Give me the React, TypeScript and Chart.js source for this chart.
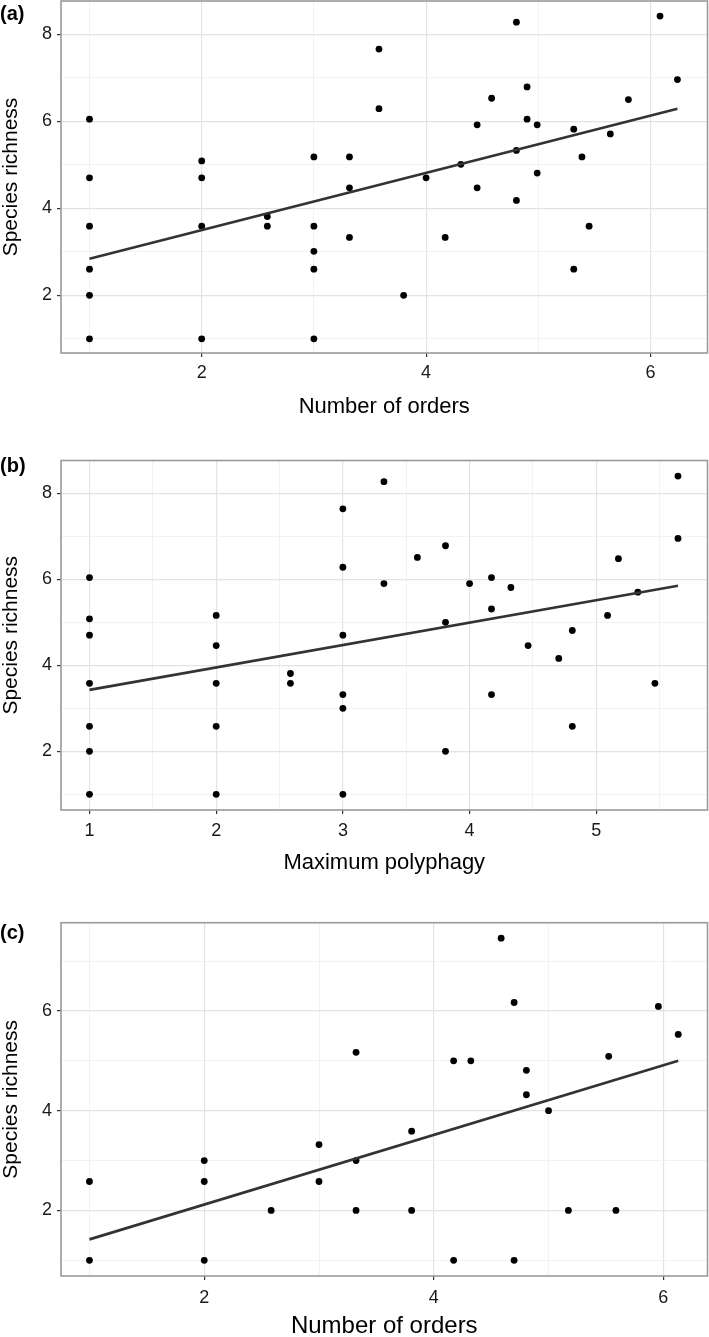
import React, { useEffect, useRef } from 'react';
import { Chart, registerables } from 'chart.js';

Chart.register(...registerables);

// ---------- Panel (a): Number of orders vs species richness ----------
const ordersA = [
  1, 1, 1, 1, 1, 1,
  2, 2, 2, 2,
  2.585, 2.585,
  3, 3, 3, 3, 3,
  3.317, 3.317, 3.317,
  3.58, 3.58,
  3.8, 4.0, 4.17, 4.31,
  4.455, 4.455, 4.584,
  4.805, 4.805, 4.805,
  4.9, 4.9, 4.99, 4.99,
  5.316, 5.316, 5.389, 5.453, 5.642, 5.803, 6.085, 6.24,
];
const richnessA = [
  6.05, 4.7, 3.59, 2.6, 2.0, 1.0,
  5.09, 4.7, 3.59, 1.0,
  3.81, 3.59,
  5.18, 3.59, 3.01, 2.6, 1.0,
  5.18, 4.47, 3.33,
  7.66, 6.29,
  2.0, 4.7, 3.33, 5.01,
  5.92, 4.47, 6.53,
  8.28, 5.33, 4.18,
  6.79, 6.05, 5.92, 4.81,
  5.82, 2.6, 5.18, 3.59, 5.71, 6.5, 8.42, 6.96,
];
const fitAx = [1, 6.24];
const fitAy = [2.84, 6.29];

// ---------- Panel (b): Maximum polyphagy vs species richness ----------
const polyphagyB = [
  1, 1, 1, 1, 1, 1, 1,
  2, 2, 2, 2, 2,
  2.586, 2.586,
  3, 3, 3, 3, 3, 3,
  3.324, 3.324, 3.588,
  3.81, 3.81, 3.81,
  4.0,
  4.173, 4.173, 4.173,
  4.326, 4.462, 4.704, 4.811, 4.811,
  5.089, 5.175, 5.328, 5.463, 5.645, 5.645,
];
const richnessB = [
  6.04, 5.08, 4.7, 3.58, 2.58, 2.0, 1.0,
  5.16, 4.46, 3.58, 2.58, 1.0,
  3.81, 3.58,
  7.64, 6.28, 4.7, 3.32, 3.0, 1.0,
  8.27, 5.9, 6.51,
  6.78, 5.0, 2.0,
  5.9,
  6.04, 5.31, 3.32,
  5.81, 4.46, 4.16, 4.81, 2.58,
  5.16, 6.48, 5.7, 3.58, 8.4, 6.95,
];
const fitBx = [1, 5.645];
const fitBy = [3.43, 5.85];

// ---------- Panel (c): Number of orders vs species richness ----------
const ordersC = [
  1, 1,
  2, 2, 2,
  2.583,
  3, 3,
  3.323, 3.323, 3.323,
  3.807, 3.807,
  4.173, 4.173, 4.323,
  4.587, 4.7, 4.7,
  4.807, 4.807, 5.0,
  5.173, 5.524, 5.587, 5.957, 6.13,
];
const richnessC = [
  2.58, 1.0,
  3.0, 2.58, 1.0,
  2.0,
  3.32, 2.58,
  5.17, 3.0, 2.0,
  3.59, 2.0,
  5.0, 1.0, 5.0,
  7.46, 6.17, 1.0,
  4.81, 4.32, 4.0,
  2.0, 5.09, 2.0, 6.09, 5.53,
];
const fitCx = [1, 6.13];
const fitCy = [1.42, 5.0];

// ---------- Tick values ----------
const xTicksOrders = [1, 2, 3, 4, 5, 6];
const xMajorOrders = [2, 4, 6];
const xTicksPoly = [1, 1.5, 2, 2.5, 3, 3.5, 4, 4.5, 5, 5.5];
const xMajorPoly = [1, 2, 3, 4, 5];
const yTicksAB = [1, 2, 3, 4, 5, 6, 7, 8];
const yMajorAB = [2, 4, 6, 8];
const yTicksC = [1, 2, 3, 4, 5, 6, 7];
const yMajorC = [2, 4, 6];

const FONT = '"Liberation Sans", Arial, Helvetica, sans-serif';

const isIn = (arr: number[], v: number) => arr.some((a) => Math.abs(a - v) < 1e-6);

const framePlugin = {
  id: 'frame',
  afterDatasetsDraw(chart: any) {
    const { ctx, chartArea } = chart;
    ctx.save();
    ctx.strokeStyle = '#9a9a9a';
    ctx.lineWidth = 1.6;
    ctx.strokeRect(chartArea.left, chartArea.top, chartArea.right - chartArea.left, chartArea.bottom - chartArea.top);
    ctx.restore();
  },
};

type PanelProps = {
  top: number;
  height: number;
  plotTop: number;
  plotBottom: number;
  xs: number[];
  ys: number[];
  fitX: number[];
  fitY: number[];
  xTicks: number[];
  xMajor: number[];
  yTicks: number[];
  yMajor: number[];
  xMin: number;
  xMax: number;
  yMin: number;
  yMax: number;
  xTitle: string;
  xTitleSize: number;
  xTitlePad: number;
  xTickPad: number;
};

function Panel(p: PanelProps) {
  const ref = useRef<HTMLCanvasElement | null>(null);
  useEffect(() => {
    if (!ref.current) return;
    const points = p.xs.map((x, i) => ({ x, y: p.ys[i] }));
    const fit = p.fitX.map((x, i) => ({ x, y: p.fitY[i] }));
    const plotLeft = 61;
    const plotRight = 707.5;
    const xAxisH = p.top + p.height - p.plotBottom;
    const gridColor = (major: number[]) => (c: any) =>
      c.tick && isIn(major, c.tick.value) ? '#e3e3e3' : '#efefef';
    const gridWidth = (major: number[]) => (c: any) =>
      c.tick && isIn(major, c.tick.value) ? 1.2 : 0.8;
    const tickColor = (major: number[]) => (c: any) =>
      c.tick && isIn(major, c.tick.value) ? '#333333' : 'rgba(0,0,0,0)';

    const chart = new Chart(ref.current, {
      type: 'scatter',
      data: {
        datasets: [
          {
            type: 'line',
            data: fit,
            borderColor: '#333333',
            borderWidth: 2.7,
            pointRadius: 0,
            fill: false,
            order: 0,
          } as any,
          {
            type: 'scatter',
            data: points,
            backgroundColor: '#000000',
            borderWidth: 0,
            pointRadius: 3.4,
            order: 1,
          },
        ],
      },
      options: {
        animation: false,
        responsive: false,
        devicePixelRatio: 1,
        layout: {
          autoPadding: false,
          padding: { top: p.plotTop - p.top, right: 709 - plotRight, left: 0, bottom: 0 },
        },
        plugins: { legend: { display: false }, tooltip: { enabled: false }, title: { display: false } },
        scales: {
          x: {
            type: 'linear',
            min: p.xMin,
            max: p.xMax,
            afterBuildTicks: (s: any) => {
              s.ticks = p.xTicks.map((v) => ({ value: v }));
            },
            afterFit: (s: any) => {
              s.height = xAxisH;
              s.paddingLeft = 0;
              s.paddingRight = 0;
            },
            ticks: {
              autoSkip: false,
              maxRotation: 0,
              padding: p.xTickPad,
              color: '#1a1a1a',
              font: { family: FONT, size: 18 },
              callback: (v: any) => (isIn(p.xMajor, Number(v)) ? String(v) : ''),
            },
            grid: {
              color: gridColor(p.xMajor),
              lineWidth: gridWidth(p.xMajor),
              tickColor: tickColor(p.xMajor),
              tickLength: 4,
              tickWidth: 1.2,
            },
            border: { display: false },
            title: {
              display: true,
              text: p.xTitle,
              color: '#000000',
              font: { family: FONT, size: p.xTitleSize },
              padding: { top: 0, bottom: p.xTitlePad },
            },
          },
          y: {
            type: 'linear',
            min: p.yMin,
            max: p.yMax,
            afterBuildTicks: (s: any) => {
              s.ticks = p.yTicks.map((v) => ({ value: v }));
            },
            afterFit: (s: any) => {
              s.width = plotLeft;
              s.paddingTop = 0;
              s.paddingBottom = 0;
            },
            ticks: {
              autoSkip: false,
              padding: 5,
              color: '#1a1a1a',
              font: { family: FONT, size: 18 },
              callback: (v: any) => (isIn(p.yMajor, Number(v)) ? String(v) : ''),
            },
            grid: {
              color: gridColor(p.yMajor),
              lineWidth: gridWidth(p.yMajor),
              tickColor: tickColor(p.yMajor),
              tickLength: 4,
              tickWidth: 1.2,
            },
            border: { display: false },
            title: {
              display: true,
              text: 'Species richness',
              color: '#000000',
              font: { family: FONT, size: 21, lineHeight: 1.0 },
              padding: { top: 0.5, bottom: 0 },
            },
          },
        },
      },
      plugins: [framePlugin],
    });
    return () => chart.destroy();
  }, []);
  return (
    <canvas
      ref={ref}
      width={709}
      height={p.height}
      style={{ position: 'absolute', left: 0, top: p.top, width: 709, height: p.height, display: 'block' }}
    />
  );
}

const labelStyle = (top: number): React.CSSProperties => ({
  position: 'absolute',
  left: 0,
  top,
  fontFamily: FONT,
  fontWeight: 'bold',
  fontSize: 20,
  lineHeight: '20px',
  color: '#000',
});

export default function App() {
  return (
    <div
      style={{
        position: 'absolute',
        left: 0,
        top: 0,
        width: 709,
        height: 1337,
        overflow: 'hidden',
        background: '#ffffff',
      }}
    >
      <Panel
        top={0}
        height={425}
        plotTop={1}
        plotBottom={353}
        xs={ordersA}
        ys={richnessA}
        fitX={fitAx}
        fitY={fitAy}
        xTicks={xTicksOrders}
        xMajor={xMajorOrders}
        yTicks={yTicksAB}
        yMajor={yMajorAB}
        xMin={0.746}
        xMax={6.508}
        yMin={0.673}
        yMax={8.766}
        xTitle="Number of orders"
        xTitleSize={22}
        xTitlePad={5.1}
        xTickPad={5.2}
      />
      <Panel
        top={440}
        height={440}
        plotTop={460.5}
        plotBottom={810}
        xs={polyphagyB}
        ys={richnessB}
        fitX={fitBx}
        fitY={fitBy}
        xTicks={xTicksPoly}
        xMajor={xMajorPoly}
        yTicks={yTicksAB}
        yMajor={yMajorAB}
        xMin={0.775}
        xMax={5.878}
        yMin={0.635}
        yMax={8.763}
        xTitle="Maximum polyphagy"
        xTitleSize={22}
        xTitlePad={3.8}
        xTickPad={6.2}
      />
      <Panel
        top={890}
        height={460}
        plotTop={922.7}
        plotBottom={1276}
        xs={ordersC}
        ys={richnessC}
        fitX={fitCx}
        fitY={fitCy}
        xTicks={xTicksOrders}
        xMajor={xMajorOrders}
        yTicks={yTicksC}
        yMajor={yMajorC}
        xMin={0.752}
        xMax={6.385}
        yMin={0.685}
        yMax={7.77}
        xTitle="Number of orders"
        xTitleSize={24}
        xTitlePad={8.9}
        xTickPad={6.9}
      />
      <div style={labelStyle(3)}>(a)</div>
      <div style={labelStyle(455)}>(b)</div>
      <div style={labelStyle(922)}>(c)</div>
    </div>
  );
}
